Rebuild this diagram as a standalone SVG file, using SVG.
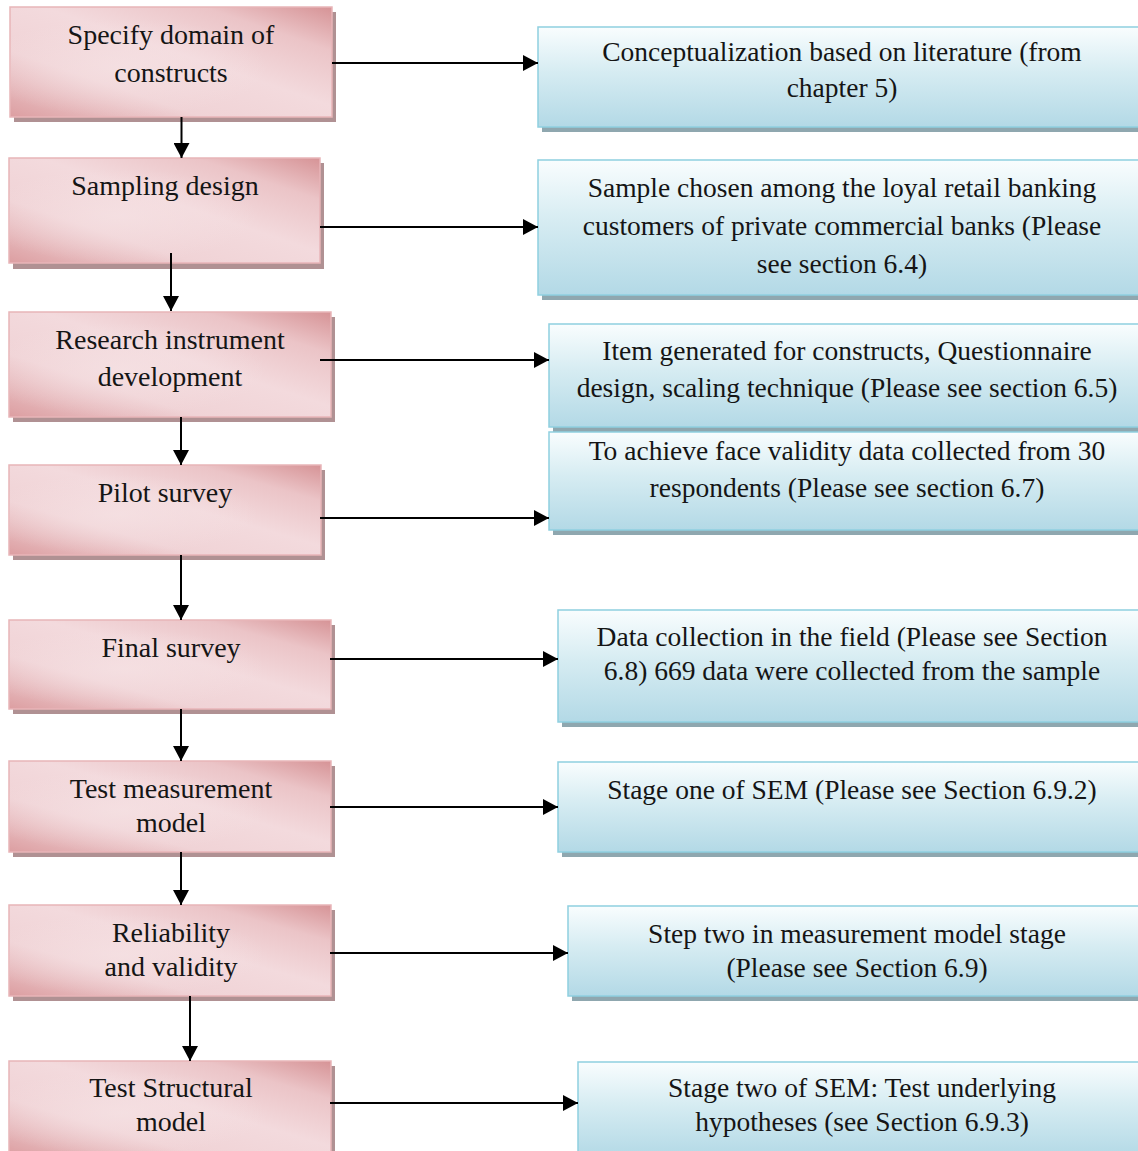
<svg xmlns="http://www.w3.org/2000/svg" width="1138" height="1151" viewBox="0 0 1138 1151">
<defs>
<linearGradient id="gp" x1="0" y1="1" x2="1" y2="0">
<stop offset="0" stop-color="#dc9ea1"/>
<stop offset="0.3" stop-color="#f0d3d6"/>
<stop offset="0.55" stop-color="#f3dadd"/>
<stop offset="0.8" stop-color="#ebc4c7"/>
<stop offset="1" stop-color="#d69396"/>
</linearGradient>
<radialGradient id="gp2" cx="0.35" cy="0.55" r="0.45">
<stop offset="0" stop-color="#f6e3e5" stop-opacity="0.7"/>
<stop offset="1" stop-color="#f6e3e5" stop-opacity="0"/>
</radialGradient>
<linearGradient id="gb" x1="0" y1="0" x2="0" y2="1">
<stop offset="0" stop-color="#f9fdfe"/>
<stop offset="0.45" stop-color="#d6ecf2"/>
<stop offset="1" stop-color="#b3d9e6"/>
</linearGradient>
<marker id="ah" markerUnits="userSpaceOnUse" markerWidth="15" markerHeight="16" viewBox="0 0 15 16" refX="15" refY="8" orient="auto">
<path d="M0,0 L15,8 L0,16 z" fill="#000"/>
</marker>
</defs>
<style>
.shp{fill:#b09193}
.pk{fill:url(#gp);stroke:#e8b5b8;stroke-width:1.5}
.pk2{fill:url(#gp2)}
.shb{fill:#8fa7af}
.bl{fill:url(#gb);stroke:#8fcfe0;stroke-width:1.5}
text{font-family:"Liberation Serif","Times New Roman",serif;fill:#151515;text-anchor:middle}
.lt{font-size:28px}
.rt{font-size:27.5px}
.c line{stroke:#000;stroke-width:2;marker-end:url(#ah)}
</style>
<rect width="1138" height="1151" fill="#fff"/>

<g id="p1">
<rect class="shp" x="14" y="12" width="322" height="110"/>
<rect class="pk" x="10" y="7" width="322" height="110"/>
<rect class="pk2" x="10" y="7" width="322" height="110"/>
<text class="lt" x="171" y="44">Specify domain of</text>
<text class="lt" x="171" y="82">constructs</text>
</g>
<g id="p2">
<rect class="shp" x="13" y="163" width="311" height="106"/>
<rect class="pk" x="9" y="158" width="311" height="105"/>
<rect class="pk2" x="9" y="158" width="311" height="105"/>
<text class="lt" x="165" y="195">Sampling design</text>
</g>
<g id="p3">
<rect class="shp" x="13" y="317" width="322" height="105"/>
<rect class="pk" x="9" y="312" width="322" height="105"/>
<rect class="pk2" x="9" y="312" width="322" height="105"/>
<text class="lt" x="170" y="349">Research instrument</text>
<text class="lt" x="170" y="386">development</text>
</g>
<g id="p4">
<rect class="shp" x="13" y="470" width="312" height="90"/>
<rect class="pk" x="9" y="465" width="312" height="90"/>
<rect class="pk2" x="9" y="465" width="312" height="90"/>
<text class="lt" x="165" y="502">Pilot survey</text>
</g>
<g id="p5">
<rect class="shp" x="13" y="625" width="322" height="89"/>
<rect class="pk" x="9" y="620" width="322" height="89"/>
<rect class="pk2" x="9" y="620" width="322" height="89"/>
<text class="lt" x="171" y="657">Final survey</text>
</g>
<g id="p6">
<rect class="shp" x="13" y="766" width="322" height="91"/>
<rect class="pk" x="9" y="761" width="322" height="91"/>
<rect class="pk2" x="9" y="761" width="322" height="91"/>
<text class="lt" x="171" y="798">Test measurement</text>
<text class="lt" x="171" y="832">model</text>
</g>
<g id="p7">
<rect class="shp" x="13" y="910" width="322" height="91"/>
<rect class="pk" x="9" y="905" width="322" height="91"/>
<rect class="pk2" x="9" y="905" width="322" height="91"/>
<text class="lt" x="171" y="942">Reliability</text>
<text class="lt" x="171" y="976">and validity</text>
</g>
<g id="p8">
<rect class="shp" x="13" y="1066" width="322" height="95"/>
<rect class="pk" x="9" y="1061" width="322" height="95"/>
<rect class="pk2" x="9" y="1061" width="322" height="95"/>
<text class="lt" x="171" y="1097">Test Structural</text>
<text class="lt" x="171" y="1131">model</text>
</g>

<g id="b1">
<rect class="shb" x="542" y="32" width="610" height="100"/>
<rect class="bl" x="538" y="27" width="610" height="100"/>
<text class="rt" x="842" y="61">Conceptualization based on literature (from</text>
<text class="rt" x="842" y="97">chapter 5)</text>
</g>
<g id="b2">
<rect class="shb" x="542" y="165" width="610" height="135"/>
<rect class="bl" x="538" y="160" width="610" height="135"/>
<text class="rt" x="842" y="197">Sample chosen among the loyal retail banking</text>
<text class="rt" x="842" y="235">customers of private commercial banks (Please</text>
<text class="rt" x="842" y="273">see section 6.4)</text>
</g>
<g id="b3">
<rect class="shb" x="553" y="329" width="600" height="103"/>
<rect class="bl" x="549" y="324" width="600" height="103"/>
<text class="rt" x="847" y="360">Item generated for constructs, Questionnaire</text>
<text class="rt" x="847" y="397">design, scaling technique (Please see section 6.5)</text>
</g>
<g id="b4">
<rect class="shb" x="553" y="437" width="600" height="98"/>
<rect class="bl" x="549" y="432" width="600" height="98"/>
<text class="rt" x="847" y="460">To achieve face validity data collected from 30</text>
<text class="rt" x="847" y="497">respondents (Please see section 6.7)</text>
</g>
<g id="b5">
<rect class="shb" x="562" y="615" width="590" height="112"/>
<rect class="bl" x="558" y="610" width="590" height="112"/>
<text class="rt" x="852" y="646">Data collection in the field (Please see Section</text>
<text class="rt" x="852" y="680">6.8) 669 data were collected from the sample</text>
</g>
<g id="b6">
<rect class="shb" x="562" y="767" width="590" height="90"/>
<rect class="bl" x="558" y="762" width="590" height="90"/>
<text class="rt" x="852" y="799">Stage one of SEM (Please see Section 6.9.2)</text>
</g>
<g id="b7">
<rect class="shb" x="572" y="911" width="580" height="90"/>
<rect class="bl" x="568" y="906" width="580" height="90"/>
<text class="rt" x="857" y="943">Step two in measurement model stage</text>
<text class="rt" x="857" y="977">(Please see Section 6.9)</text>
</g>
<g id="b8">
<rect class="shb" x="582" y="1067" width="570" height="95"/>
<rect class="bl" x="578" y="1062" width="570" height="95"/>
<text class="rt" x="862" y="1097">Stage two of SEM: Test underlying</text>
<text class="rt" x="862" y="1131">hypotheses (see Section 6.9.3)</text>
</g>

<g id="connectors" class="c">
<line x1="332" y1="63" x2="538" y2="63"/>
<line x1="320" y1="227" x2="538" y2="227"/>
<line x1="320" y1="360" x2="549" y2="360"/>
<line x1="320" y1="518" x2="549" y2="518"/>
<line x1="330" y1="659" x2="558" y2="659"/>
<line x1="330" y1="807" x2="558" y2="807"/>
<line x1="330" y1="953" x2="568" y2="953"/>
<line x1="330" y1="1103" x2="578" y2="1103"/>
<line x1="181.5" y1="117" x2="181.5" y2="158"/>
<line x1="171" y1="253" x2="171" y2="311"/>
<line x1="181" y1="417" x2="181" y2="465"/>
<line x1="181" y1="555" x2="181" y2="620"/>
<line x1="181" y1="709" x2="181" y2="761"/>
<line x1="181" y1="852" x2="181" y2="905"/>
<line x1="190" y1="996" x2="190" y2="1061"/>
</g>
</svg>
